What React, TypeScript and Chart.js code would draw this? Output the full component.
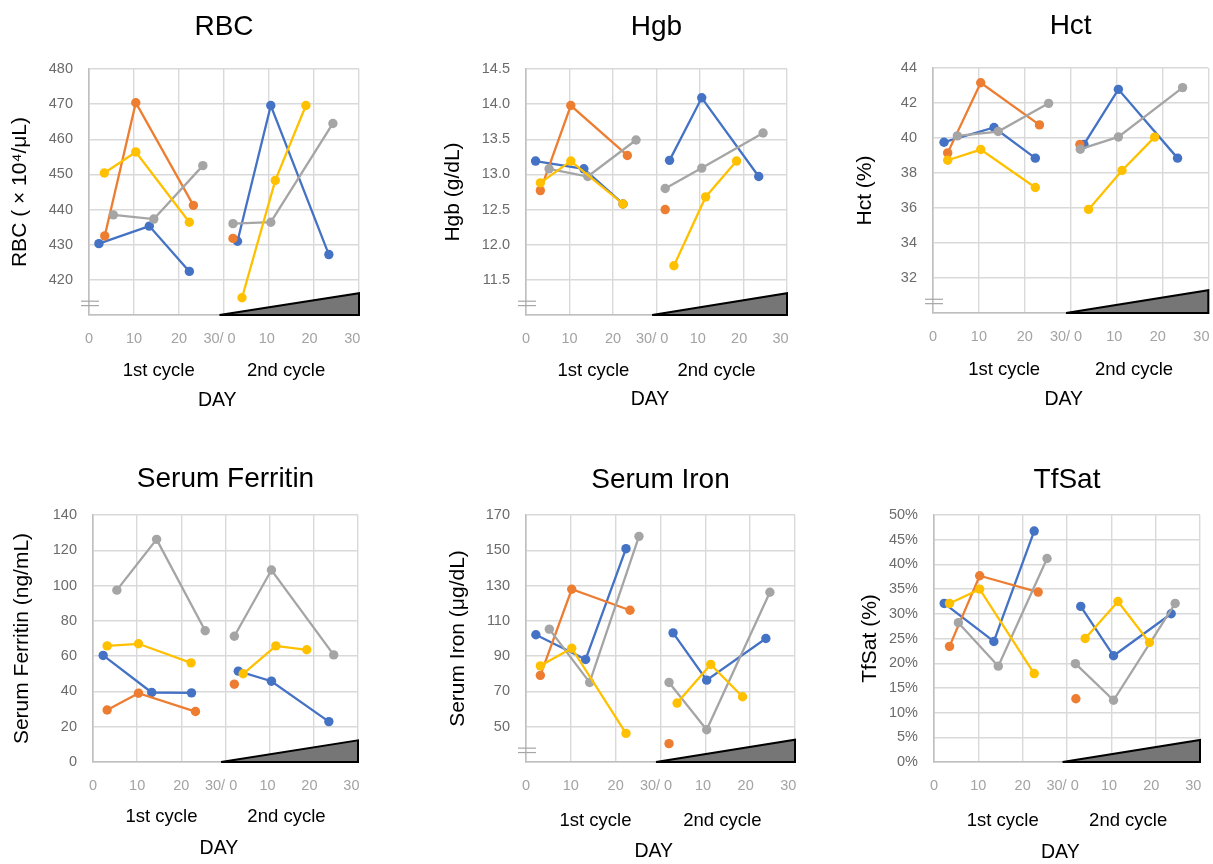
import React, { useEffect, useRef } from "react";
import { Chart, registerables } from "chart.js";

Chart.register(...registerables);

type Pt = [number, number]; // [day within the cycle, value]

// ---------- shared axis / text content ----------
const SERIES_COLORS = ["#4472C4", "#ED7D31", "#A5A5A5", "#FFC000"];
const SERIES_NAMES = ["Case 1", "Case 2", "Case 3", "Case 4"];
const X_TICK_VALUES = [0, 10, 20, 29, 39.5, 49, 58.5];
const X_TICK_LABELS = ["0", "10", "20", "30/ 0", "10", "20", "30"];
const CYCLE_LABELS = ["1st cycle", "2nd cycle"];
const CYCLE_LABEL_X = [15.5, 43.8];
const CYCLE_OFFSET = [0, 30];
const X_AXIS_TITLE = "DAY";
const DAY_LABEL_X = 28.5;

const PANEL_TITLES = ["RBC", "Hgb", "Hct", "Serum Ferritin", "Serum Iron", "TfSat"];
const Y_TITLES = [
  "RBC ( × 10⁴/μL)",
  "Hgb (g/dL)",
  "Hct (%)",
  "Serum Ferritin (ng/mL)",
  "Serum Iron (μg/dL)",
  "TfSat (%)",
];
const Y_MIN = [410, 11, 30, 0, 30, 0];
const Y_MAX = [480, 14.5, 44, 140, 170, 50];
const Y_STEP = [10, 0.5, 2, 20, 20, 5];
const Y_BROKEN = [true, true, true, false, true, false];
const WEDGE_START = 29;
const WEDGE_END = 60;
const WEDGE_TOP = [416.2, 11.31, 31.3, 12.3, 42.6, 4.47];

// ---------- RBC ----------
const rbcBlue: Pt[][] = [[[2.2, 430.3], [13.4, 435.3], [22.3, 422.4]], [[3.0, 431.0], [10.4, 469.6], [23.3, 427.2]]];
const rbcOrange: Pt[][] = [[[3.5, 432.5], [10.4, 470.4], [23.2, 441.2]], [[2.0, 431.8]]];
const rbcGray: Pt[][] = [[[5.4, 438.5], [14.4, 437.3], [25.3, 452.5]], [[2.0, 436.0], [10.4, 436.4], [24.2, 464.5]]];
const rbcYellow: Pt[][] = [[[3.4, 450.4], [10.4, 456.4], [22.3, 436.4]], [[4.0, 414.9], [11.4, 448.3], [18.2, 469.6]]];

// ---------- Hgb ----------
const hgbBlue: Pt[][] = [[[2.2, 13.19], [13.3, 13.08], [22.3, 12.58]], [[3.0, 13.2], [10.4, 14.09], [23.5, 12.97]]];
const hgbOrange: Pt[][] = [[[3.3, 12.77], [10.3, 13.98], [23.3, 13.27]], [[2.0, 12.5]]];
const hgbGray: Pt[][] = [[[5.3, 13.08], [14.2, 12.97], [25.3, 13.49]], [[2.0, 12.8], [10.4, 13.09], [24.5, 13.59]]];
const hgbYellow: Pt[][] = [[[3.3, 12.88], [10.3, 13.19], [22.3, 12.58]], [[4.0, 11.7], [11.3, 12.68], [18.4, 13.19]]];

// ---------- Hct ----------
const hctBlue: Pt[][] = [[[2.4, 39.76], [13.3, 40.6], [22.3, 38.85]], [[2.9, 39.63], [10.4, 42.78], [23.3, 38.85]]];
const hctOrange: Pt[][] = [[[3.2, 39.15], [10.4, 43.16], [23.2, 40.75]], [[2.0, 39.63]]];
const hctGray: Pt[][] = [[[5.3, 40.12], [14.2, 40.37], [25.2, 41.98]], [[2.1, 39.36], [10.4, 40.06], [24.4, 42.88]]];
const hctYellow: Pt[][] = [[[3.2, 38.73], [10.4, 39.34], [22.3, 37.17]], [[3.9, 35.92], [11.2, 38.14], [18.3, 40.05]]];

// ---------- Serum Ferritin ----------
const ferBlue: Pt[][] = [[[2.3, 60.4], [13.3, 39.4], [22.3, 39.2]], [[2.9, 51.5], [10.4, 45.8], [23.4, 22.9]]];
const ferOrange: Pt[][] = [[[3.2, 29.5], [10.3, 39.0], [23.2, 28.6]], [[2.0, 44.1]]];
const ferGray: Pt[][] = [[[5.4, 97.4], [14.4, 126.2], [25.4, 74.4]], [[2.0, 71.3], [10.4, 108.8], [24.5, 60.7]]];
const ferYellow: Pt[][] = [[[3.2, 65.8], [10.3, 67.0], [22.2, 56.2]], [[4.0, 50.0], [11.4, 65.8], [18.4, 63.6]]];

// ---------- Serum Iron ----------
const feBlue: Pt[][] = [[[2.2, 102.1], [13.3, 88.1], [22.3, 150.9]], [[2.8, 103.2], [10.3, 76.4], [23.5, 100.0]]];
const feOrange: Pt[][] = [[[3.2, 79.1], [10.2, 127.9], [23.2, 116.0]], [[1.9, 40.4]]];
const feGray: Pt[][] = [[[5.2, 105.3], [14.2, 75.1], [25.2, 157.9]], [[1.9, 75.1], [10.3, 48.3], [24.4, 126.2]]];
const feYellow: Pt[][] = [[[3.2, 84.5], [10.2, 94.5], [22.3, 46.2]], [[3.7, 63.4], [11.2, 85.3], [18.3, 67.0]]];

// ---------- TfSat (%) ----------
const tfBlue: Pt[][] = [[[2.3, 32.1], [13.5, 24.4], [22.6, 46.75]], [[3.1, 31.5], [10.5, 21.5], [23.5, 30.0]]];
const tfOrange: Pt[][] = [[[3.5, 23.4], [10.3, 37.7], [23.5, 34.4]], [[2.0, 12.8]]];
const tfGray: Pt[][] = [[[5.5, 28.2], [14.5, 19.4], [25.5, 41.2]], [[1.9, 19.9], [10.5, 12.5], [24.4, 32.1]]];
const tfYellow: Pt[][] = [[[3.5, 32.1], [10.3, 35.0], [22.6, 17.9]], [[4.1, 25.0], [11.5, 32.5], [18.6, 24.2]]];

const PANEL_SERIES: Pt[][][][] = [
  [rbcBlue, rbcOrange, rbcGray, rbcYellow],
  [hgbBlue, hgbOrange, hgbGray, hgbYellow],
  [hctBlue, hctOrange, hctGray, hctYellow],
  [ferBlue, ferOrange, ferGray, ferYellow],
  [feBlue, feOrange, feGray, feYellow],
  [tfBlue, tfOrange, tfGray, tfYellow],
];

// ---------- layout (page pixels) ----------
const CANVAS_BOX = [
  [0, 0, 400, 430],
  [420, 0, 400, 430],
  [840, 0, 373, 430],
  [0, 440, 400, 424],
  [420, 440, 400, 424],
  [840, 440, 373, 424],
];
const PLOT_BOX = [
  [89, 69, 359, 315],
  [526, 69, 787, 315],
  [933, 68, 1210, 313],
  [93, 515, 358, 762],
  [526, 515, 795, 762],
  [934, 515, 1200, 762],
];
const Y_TITLE_X = [20, 453, 865, 22, 458, 870];
const TITLE_Y = [27, 27, 26, 479, 480, 480];
const CYCLE_Y_GAP = [56, 56, 57, 55, 59, 59];
const DAY_Y_GAP = [86, 85, 87, 87, 90, 91];

const FONT = '"Liberation Sans", Arial, Helvetica, sans-serif';
const Y_TITLE_SIZE = 21;

function buildPoints(cycles: Pt[][]) {
  const out: { x: number; y: number | null }[] = [];
  cycles.forEach((c, ci) => {
    if (ci > 0) out.push({ x: CYCLE_OFFSET[ci], y: null });
    c.forEach(([d, v]) => out.push({ x: CYCLE_OFFSET[ci] + d, y: v }));
  });
  return out;
}

function formatY(idx: number, v: number) {
  if (Y_BROKEN[idx] && Math.abs(v - Y_MIN[idx]) < 1e-9) return "";
  if (idx === 1) return v.toFixed(1);
  if (idx === 5) return `${Math.round(v)}%`;
  return String(Math.round(v));
}

function Panel({ idx }: { idx: number }) {
  const ref = useRef<HTMLCanvasElement | null>(null);
  const [cl, ct, cw, ch] = CANVAS_BOX[idx];

  useEffect(() => {
    if (!ref.current) return;
    const [pl, pt, pr, pb] = PLOT_BOX[idx];
    const yAxisW = pl - cl;
    const padTop = pt - ct;
    const padRight = cl + cw - pr;
    const xAxisH = ct + ch - pb;
    const yTitlePad = Y_TITLE_X[idx] - cl - (Y_TITLE_SIZE * 1.2) / 2;
    const yMin = Y_MIN[idx];

    const datasets = PANEL_SERIES[idx].map((s, si) => ({
      label: SERIES_NAMES[si],
      data: buildPoints(s),
      xAxisID: "x",
      yAxisID: "y",
      borderColor: SERIES_COLORS[si],
      backgroundColor: SERIES_COLORS[si],
      pointBackgroundColor: SERIES_COLORS[si],
      pointBorderColor: SERIES_COLORS[si],
      pointBorderWidth: 0,
      pointRadius: 4.7,
      pointHoverRadius: 4.7,
      borderWidth: 2.3,
      tension: 0,
      fill: false,
      spanGaps: false,
      order: 3 - si,
    }));

    const decor = {
      id: "panelDecor",
      beforeDatasetsDraw(chart: any) {
        const { ctx } = chart;
        const xs = chart.scales.x;
        const ys = chart.scales.y;
        const x0 = xs.getPixelForValue(WEDGE_START);
        const x1 = xs.getPixelForValue(WEDGE_END);
        const yb = ys.getPixelForValue(yMin);
        const yt = ys.getPixelForValue(WEDGE_TOP[idx]);
        ctx.save();
        ctx.beginPath();
        ctx.moveTo(x0, yb);
        ctx.lineTo(x1, yt);
        ctx.lineTo(x1, yb);
        ctx.closePath();
        ctx.fillStyle = "#767676";
        ctx.fill();
        ctx.lineWidth = 2;
        ctx.lineJoin = "miter";
        ctx.strokeStyle = "#000";
        ctx.stroke();
        ctx.restore();
      },
      afterDraw(chart: any) {
        const { ctx, chartArea } = chart;
        const xs = chart.scales.x;
        const ys = chart.scales.y;
        ctx.save();
        // panel title
        ctx.fillStyle = "#000";
        ctx.textAlign = "center";
        ctx.textBaseline = "middle";
        ctx.font = `28px ${FONT}`;
        ctx.fillText(PANEL_TITLES[idx], (chartArea.left + chartArea.right) / 2, TITLE_Y[idx] - ct);
        // cycle labels
        ctx.font = `18.5px ${FONT}`;
        CYCLE_LABELS.forEach((t, k) => {
          ctx.fillText(t, xs.getPixelForValue(CYCLE_LABEL_X[k]), chartArea.bottom + CYCLE_Y_GAP[idx]);
        });
        // DAY
        ctx.font = `19.5px ${FONT}`;
        ctx.fillText(X_AXIS_TITLE, xs.getPixelForValue(DAY_LABEL_X), chartArea.bottom + DAY_Y_GAP[idx]);
        // axis break marks
        if (Y_BROKEN[idx]) {
          const step = ys.getPixelForValue(yMin) - ys.getPixelForValue(yMin + Y_STEP[idx]);
          const yc = chartArea.bottom - step * 0.33;
          ctx.strokeStyle = "#a6a6a6";
          ctx.lineWidth = 1.2;
          [-2.2, 2.2].forEach((d) => {
            ctx.beginPath();
            ctx.moveTo(chartArea.left - 8, yc + d);
            ctx.lineTo(chartArea.left + 10, yc + d);
            ctx.stroke();
          });
        }
        ctx.restore();
      },
    };

    const chart = new Chart(ref.current, {
      type: "line",
      data: { datasets } as any,
      options: {
        responsive: false,
        maintainAspectRatio: false,
        animation: false,
        devicePixelRatio: 1,
        layout: { padding: { top: padTop, right: padRight, left: 0, bottom: 0 } },
        plugins: {
          legend: { display: false },
          tooltip: { enabled: false },
          title: { display: false },
        },
        scales: {
          x: {
            type: "linear",
            axis: "x",
            position: "bottom",
            weight: 0,
            min: 0,
            max: 60,
            ticks: { stepSize: 10, display: false },
            grid: { color: "#d9d9d9", lineWidth: 1.4, drawTicks: false },
            border: { color: "#bfbfbf", width: 1.6 },
            afterFit: (s: any) => {
              s.height = 0;
              s.paddingLeft = 0;
              s.paddingRight = 0;
            },
          },
          xl: {
            type: "linear",
            axis: "x",
            position: "bottom",
            weight: 1,
            min: 0,
            max: 60,
            grid: { display: false, drawTicks: false },
            border: { display: false },
            ticks: {
              autoSkip: false,
              maxRotation: 0,
              minRotation: 0,
              padding: 15,
              color: "#a3a3a3",
              font: { size: 14.5, family: FONT },
              callback: (_v: any, i: number) => X_TICK_LABELS[i],
            },
            afterBuildTicks: (s: any) => {
              s.ticks = X_TICK_VALUES.map((v) => ({ value: v }));
            },
            afterFit: (s: any) => {
              s.height = xAxisH;
              s.paddingLeft = 0;
              s.paddingRight = 0;
            },
          },
          y: {
            type: "linear",
            position: "left",
            min: Y_MIN[idx],
            max: Y_MAX[idx],
            ticks: {
              stepSize: Y_STEP[idx],
              autoSkip: false,
              padding: 16,
              color: "#6b6b6b",
              font: { size: 14.5, family: FONT },
              callback: (v: any) => formatY(idx, Number(v)),
            },
            grid: { color: "#d9d9d9", lineWidth: 1.4, drawTicks: false },
            border: { color: "#bfbfbf", width: 1.6 },
            title: {
              display: true,
              text: Y_TITLES[idx],
              color: "#000",
              font: { size: Y_TITLE_SIZE, family: FONT },
              padding: { top: yTitlePad, bottom: 0 },
            },
            afterFit: (s: any) => {
              s.width = yAxisW;
              s.paddingTop = 0;
              s.paddingBottom = 0;
            },
          },
        },
      } as any,
      plugins: [decor],
    });
    return () => chart.destroy();
  }, [idx]);

  return (
    <canvas
      ref={ref}
      width={cw}
      height={ch}
      style={{ position: "absolute", left: cl, top: ct, width: cw, height: ch, display: "block" }}
    />
  );
}

export default function App() {
  return (
    <div
      style={{
        position: "absolute",
        left: 0,
        top: 0,
        width: 1213,
        height: 864,
        background: "#fff",
        overflow: "hidden",
      }}
    >
      {PANEL_TITLES.map((_, i) => (
        <Panel key={i} idx={i} />
      ))}
    </div>
  );
}
